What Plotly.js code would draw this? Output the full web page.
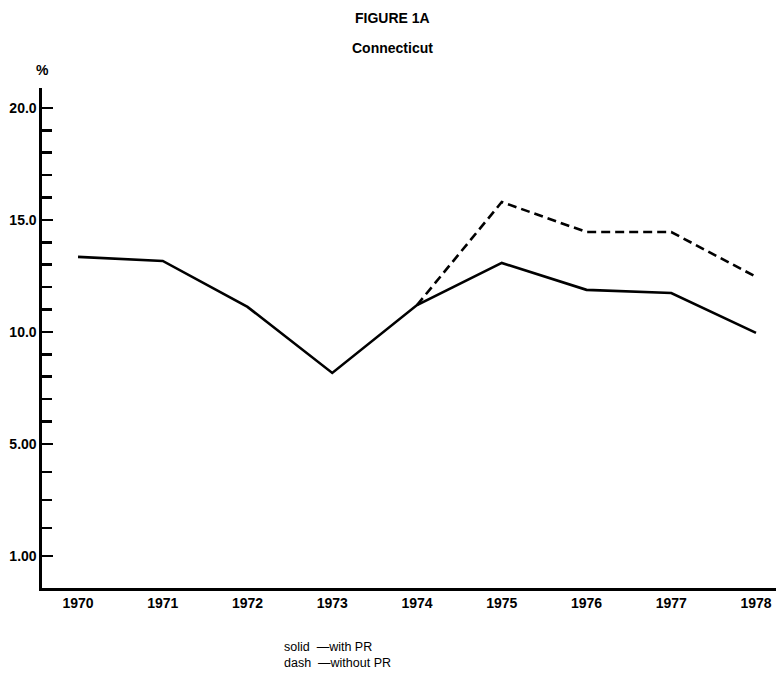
<!DOCTYPE html>
<html>
<head>
<meta charset="utf-8">
<script src="https://cdn.plot.ly/plotly-3.0.1.min.js"></script>
<style>html,body{margin:0;padding:0;background:#fff;}#chart{width:782px;height:674px;}</style>
</head>
<body>
<div id="chart"></div>
<script>
// Data
var years = [1970, 1971, 1972, 1973, 1974, 1975, 1976, 1977, 1978];
var withPR = [13.35, 13.17, 11.12, 8.17, 11.2, 13.08, 11.88, 11.74, 9.96];
var yearsWithoutPR = [1974, 1975, 1976, 1977, 1978];
var withoutPR = [11.2, 15.8, 14.46, 14.46, 12.46];
var yTickVals = [0, 5, 10, 15, 20];
var yTickText = ["1.00", "5.00", "10.0", "15.0", "20.0"];
var yMinorVals = [1.25, 2.5, 3.75, 6, 7, 8, 9, 11, 12, 13, 14, 16, 17, 18, 19];
var xTickText = ["1970", "1971", "1972", "1973", "1974", "1975", "1976", "1977", "1978"];
var legendLines = ["solid  \u2014with PR", "dash  \u2014without PR"];

var boldFont = {family: "Liberation Sans, Arial, sans-serif", size: 14, color: "#000", weight: "bold"};
var plainFont = {family: "Liberation Sans, Arial, sans-serif", size: 12.5, color: "#000"};

var traces = [
  {x: years, y: withPR, mode: "lines", line: {color: "#000", width: 2.6}, hoverinfo: "skip", name: "with PR"},
  {x: yearsWithoutPR, y: withoutPR, mode: "lines", line: {color: "#000", width: 2.6, dash: "9px,5px"}, hoverinfo: "skip", name: "without PR"}
];

var layout = {
  width: 782, height: 674,
  paper_bgcolor: "#fff", plot_bgcolor: "#fff",
  margin: {l: 42, r: 6, t: 88, b: 86},
  showlegend: false,
  xaxis: {
    range: [1969.575, 1978.236],
    tickmode: "array", tickvals: years, ticktext: xTickText,
    ticks: "", showgrid: false, zeroline: false,
    showline: true, linecolor: "#000", linewidth: 2.6,
    tickfont: boldFont, ticklabelstandoff: 1
  },
  yaxis: {
    range: [-1.43, 20.89],
    tickmode: "array", tickvals: yTickVals, ticktext: yTickText,
    ticks: "inside", ticklen: 11, tickwidth: 2.6, tickcolor: "#000",
    minor: {tickmode: "array", tickvals: yMinorVals, ticks: "inside", ticklen: 10, tickwidth: 2.6, tickcolor: "#000", showgrid: false},
    showgrid: false, zeroline: false,
    showline: true, linecolor: "#000", linewidth: 2.6,
    tickfont: boldFont, ticklabelstandoff: 0
  },
  annotations: [
    {text: "FIGURE 1A", xref: "paper", yref: "paper", x: 0.477, y: 1.141, showarrow: false, font: boldFont, xanchor: "center", yanchor: "middle"},
    {text: "Connecticut", xref: "paper", yref: "paper", x: 0.477, y: 1.08, showarrow: false, font: boldFont, xanchor: "center", yanchor: "middle"},
    {text: "%", xref: "paper", yref: "paper", x: 0.001, y: 1.036, showarrow: false, font: boldFont, xanchor: "center", yanchor: "middle"},
    {text: legendLines.join("<br>"), xref: "paper", yref: "paper", x: 0.327, y: -0.134, showarrow: false, font: plainFont, xanchor: "left", yanchor: "middle", align: "left"}
  ]
};

Plotly.newPlot("chart", traces, layout, {staticPlot: true, displayModeBar: false});
</script>
</body>
</html>
